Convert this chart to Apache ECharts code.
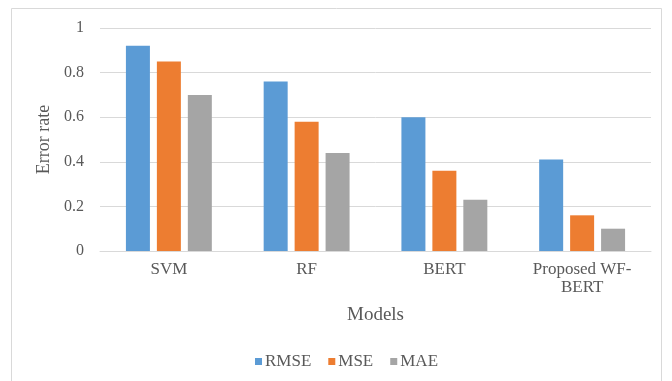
<!DOCTYPE html>
<html>
<head>
<meta charset="utf-8">
<script src="https://cdn.jsdelivr.net/npm/echarts@6/dist/echarts.min.js"></script>
<style>
  html, body { margin: 0; padding: 0; background: #fff; }
  #chart { width: 672px; height: 381px; }
</style>
</head>
<body>
<div id="chart"></div>
<script>
// Error rates per model
const models = ['SVM', 'RF', 'BERT', 'Proposed WF-BERT'];
const rmse = [0.92, 0.76, 0.60, 0.41];
const mse = [0.85, 0.58, 0.36, 0.16];
const mae = [0.70, 0.44, 0.23, 0.10];
const yTicks = [0, 0.2, 0.4, 0.6, 0.8, 1];

const FONT = '"Liberation Serif", "Times New Roman", serif';
const TEXT = '#595959';

const chart = echarts.init(document.getElementById('chart'), null, { renderer: 'canvas' });

function barSeries(name, data, color) {
  return {
    name: name,
    type: 'bar',
    data: data,
    barWidth: 24,
    barGap: '29%',
    itemStyle: { color: color },
    emphasis: { disabled: true }
  };
}

chart.setOption({
  animation: false,
  backgroundColor: '#fff',
  graphic: [{
    type: 'rect',
    shape: { x: 11.5, y: 8.5, width: 650, height: 390 },
    style: { fill: 'none', stroke: '#d9d9d9', lineWidth: 1 },
    silent: true
  }],
  grid: { left: 100, right: 21, top: 28, bottom: 130 },
  legend: {
    left: 255,
    top: 353,
    padding: 0,
    itemWidth: 7,
    itemHeight: 7,
    itemGap: 17,
    icon: 'rect',
    textStyle: { fontFamily: FONT, fontSize: 17, color: TEXT, padding: [0, 0, 0, -2] },
    data: ['RMSE', 'MSE', 'MAE']
  },
  xAxis: {
    type: 'category',
    data: models,
    name: 'Models',
    nameLocation: 'middle',
    nameGap: 55,
    nameTextStyle: { fontFamily: FONT, fontSize: 19, color: TEXT },
    axisLine: { lineStyle: { color: '#d9d9d9' } },
    axisTick: { show: false },
    axisLabel: {
      fontFamily: FONT,
      fontSize: 17,
      color: TEXT,
      margin: 10,
      lineHeight: 18,
      formatter: v => v.replace('WF-', 'WF-\n')
    }
  },
  yAxis: {
    type: 'value',
    min: yTicks[0],
    max: yTicks[yTicks.length - 1],
    interval: 0.2,
    name: 'Error rate',
    nameLocation: 'middle',
    nameGap: 44,
    nameTextStyle: { fontFamily: FONT, fontSize: 18, color: TEXT },
    axisLine: { show: false },
    axisTick: { show: false },
    axisLabel: { fontFamily: FONT, fontSize: 16, color: TEXT, margin: 16 },
    splitLine: { lineStyle: { color: '#d9d9d9' } }
  },
  series: [
    barSeries('RMSE', rmse, '#5B9BD5'),
    barSeries('MSE', mse, '#ED7D31'),
    barSeries('MAE', mae, '#A5A5A5')
  ]
});
</script>
</body>
</html>
